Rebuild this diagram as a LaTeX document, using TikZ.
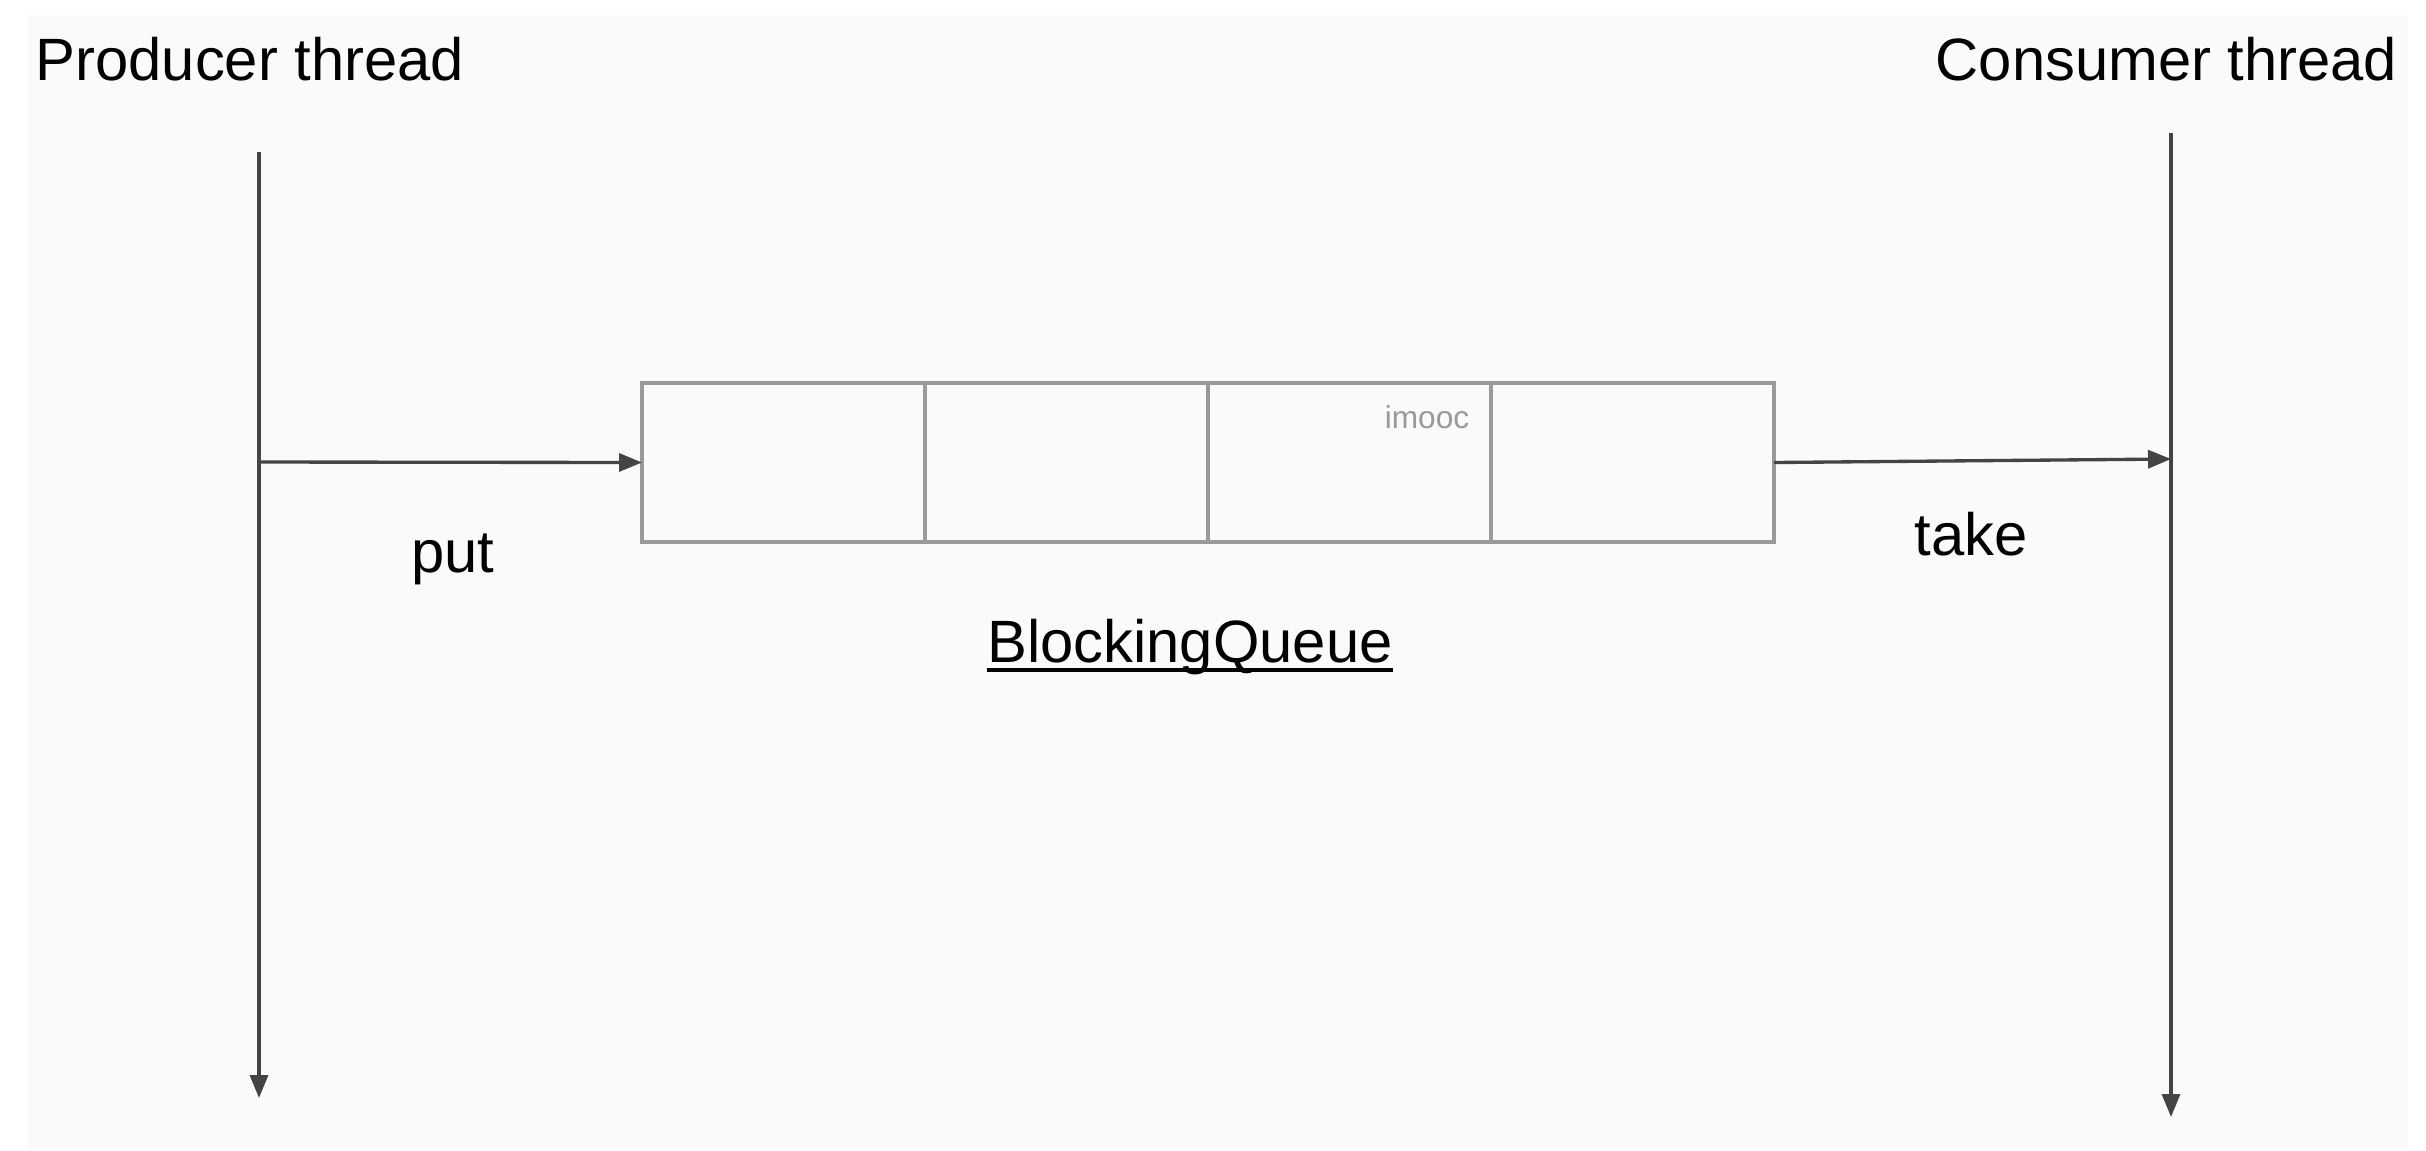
\documentclass[tikz,border=0pt]{standalone}
\usepackage{fontspec}
\setmainfont{Liberation Sans}
\usetikzlibrary{arrows.meta,positioning}
\definecolor{bggray}{HTML}{FAFAFB}
\definecolor{linegray}{HTML}{444444}
\definecolor{boxgray}{HTML}{9A9A9A}
\tikzset{
  labeltext/.style={font=\fontsize{17}{20}\selectfont, inner sep=0pt},
  flow/.style={draw=linegray, line width=0.95pt, -{Triangle[length=2.3mm,width=1.8mm]}},
  slot/.style={draw=boxgray, line width=0.95pt, minimum width=28.3mm, minimum height=15.9mm,
               outer sep=0pt, inner sep=0pt},
}
\begin{document}
\begin{tikzpicture}[x=0.1mm, y=-0.1mm]
  \useasboundingbox (0,0) rectangle (2426,1150);
  \fill[bggray] (28,15) rectangle (2408,1148);
  % thread titles
  \node[labeltext, anchor=base west] (prod) at (35,80) {Producer thread};
  \node[labeltext, anchor=base east] (cons) at (2398,80) {Consumer thread};
  % thread time lines
  \coordinate (ptop) at (259,152);
  \coordinate (pput) at (259,462);
  \coordinate (pbot) at (259,1098);
  \coordinate (ctop) at (2171,133);
  \coordinate (ctake) at (2171,459);
  \coordinate (cbot) at (2171,1117);
  % the queue
  \node[slot] (q1) at (783.5,462.5) {};
  \node[slot, right=0pt of q1] (q2) {};
  \node[slot, right=0pt of q2] (q3) {};
  \node[slot, right=0pt of q3] (q4) {};
  \node[font=\fontsize{9}{11}\selectfont, text=boxgray, inner sep=0pt, anchor=base] (mark) at (1427,428) {imooc};
  \node[labeltext, anchor=base] (bq) at (1190,662) {BlockingQueue};
  \draw[line width=1.3pt] ([yshift=-0.8mm]bq.base west) -- ([yshift=-0.8mm]bq.base east);
  % arrows
  \draw[flow] (ptop) -- (pbot);
  \draw[flow] (ctop) -- (cbot);
  \draw[flow] (pput) -- (q1.west);
  \draw[flow] (q4.east) -- (ctake);
  \node[labeltext, anchor=base] (put) at (453,572) {put};
  \node[labeltext, anchor=base] (take) at (1971,555) {take};
\end{tikzpicture}
\end{document}
